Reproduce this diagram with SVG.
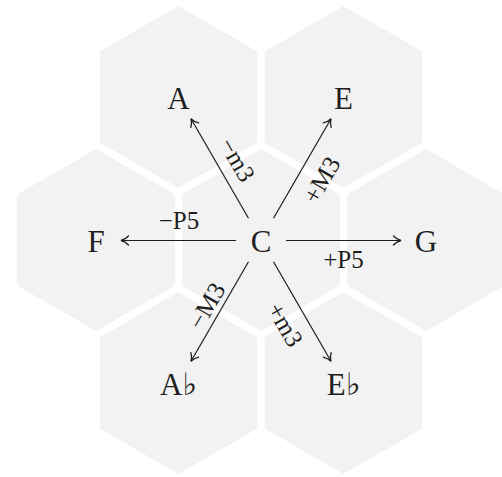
<svg xmlns="http://www.w3.org/2000/svg" width="502" height="477" viewBox="0 0 502 477">
<style>
.hex{fill:#f2f2f2;stroke:none}
.node{font-family:"Liberation Serif","DejaVu Serif",serif;font-size:31px;fill:#1e1e1e;text-anchor:middle}
.lbl{font-family:"Liberation Serif","DejaVu Serif",serif;font-size:25px;fill:#1e1e1e;text-anchor:middle}
.edge{stroke:#1e1e1e;stroke-width:1.2;fill:none;marker-end:url(#arr)}
</style>
<defs>
<polygon id="hx" points="0,-91 78.8,-45.5 78.8,45.5 0,91 -78.8,45.5 -78.8,-45.5"/>
<marker id="arr" markerUnits="userSpaceOnUse" markerWidth="14" markerHeight="14" viewBox="-10 -7 14 14" refX="0" refY="0" orient="auto" overflow="visible">
<path d="M -7.5 -4.5 C -5 -1.8, -2 -0.5, 0 0 C -2 0.5, -5 1.8, -7.5 4.5" fill="none" stroke="#1e1e1e" stroke-width="1.3" stroke-linecap="round"/>
</marker>
</defs>
<rect width="502" height="477" fill="#fff"/>
<g id="hexes">
<use href="#hx" class="hex" transform="translate(178.5,97)"/>
<use href="#hx" class="hex" transform="translate(343.5,97)"/>
<use href="#hx" class="hex" transform="translate(96,240)"/>
<use href="#hx" class="hex" transform="translate(261,240)"/>
<use href="#hx" class="hex" transform="translate(426,240)"/>
<use href="#hx" class="hex" transform="translate(178.5,383)"/>
<use href="#hx" class="hex" transform="translate(343.5,383)"/>
</g>
<g id="connectors">
<line class="edge" x1="248.5" y1="218.3" x2="191" y2="118.7"/>
<line class="edge" x1="273.5" y1="218.3" x2="331" y2="118.7"/>
<line class="edge" x1="236" y1="240.5" x2="121" y2="240.5" stroke-width="1.6"/>
<line class="edge" x1="286" y1="240.5" x2="401" y2="240.5" stroke-width="1.6"/>
<line class="edge" x1="248.5" y1="261.7" x2="191" y2="361.3"/>
<line class="edge" x1="273.5" y1="261.7" x2="331" y2="361.3"/>
<text class="lbl" transform="translate(237,160) rotate(60)" y="8">−m3</text>
<text class="lbl" transform="translate(322,180) rotate(-60)" y="8">+M3</text>
<text class="lbl" x="179" y="229">−P5</text>
<text class="lbl" x="343.5" y="268">+P5</text>
<text class="lbl" transform="translate(207,306) rotate(-60)" y="8">−M3</text>
<text class="lbl" transform="translate(285,325) rotate(60)" y="8">+m3</text>
</g>
<g id="node-C"><text class="node" x="261" y="251.5">C</text></g>
<g id="node-A"><text class="node" x="178.5" y="108.5">A</text></g>
<g id="node-E"><text class="node" x="343.5" y="108.5">E</text></g>
<g id="node-F"><text class="node" x="96" y="251.5">F</text></g>
<g id="node-G"><text class="node" x="426" y="251.5">G</text></g>
<g id="node-Ab"><text class="node" x="178.5" y="394.5">A♭</text></g>
<g id="node-Eb"><text class="node" x="343.5" y="394.5">E♭</text></g>
</svg>
